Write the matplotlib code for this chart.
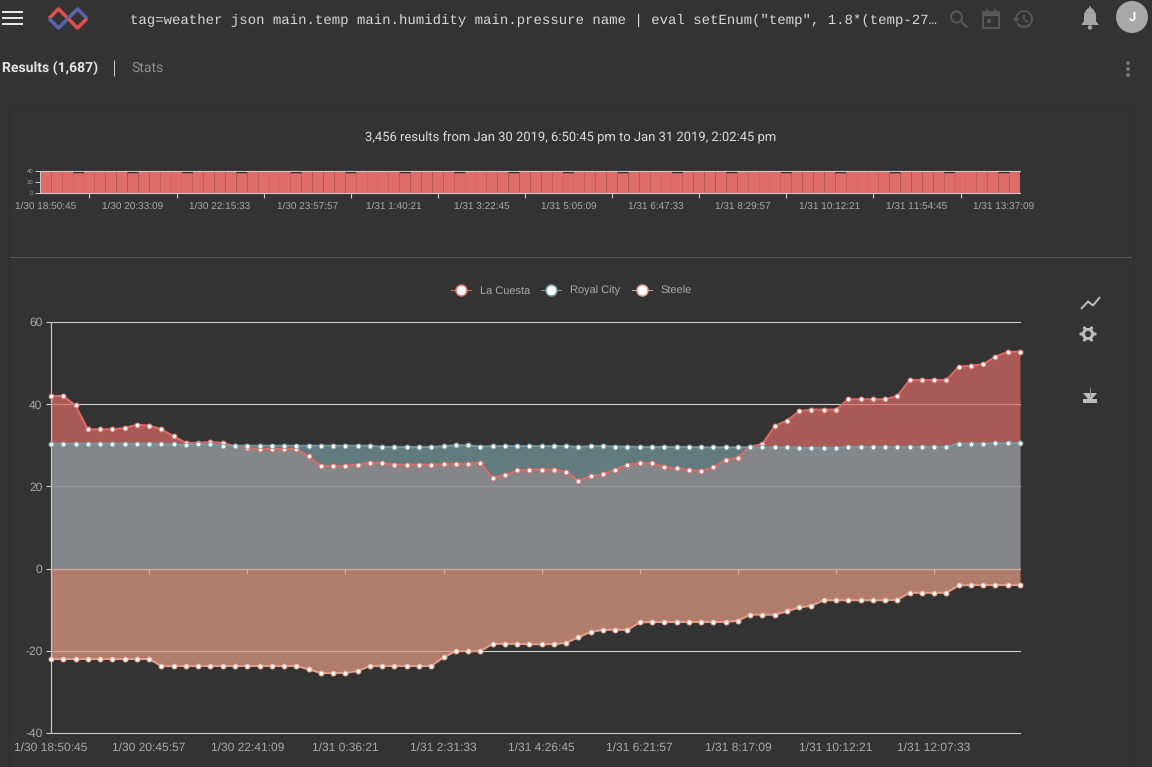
import matplotlib
matplotlib.use("Agg")
import matplotlib.pyplot as plt
from matplotlib.lines import Line2D
from matplotlib.patches import Circle, Polygon, Rectangle, Arc

plt.rcParams["axes.unicode_minus"] = False
plt.rcParams["text.hinting"] = "no_hinting"
plt.rcParams["text.hinting_factor"] = 1

BG = "#333333"
W, H = 1152, 767

# main chart
la_cuesta = [42, 42, 39.7, 33.9, 33.9, 33.9, 34.2, 35.0, 34.8, 33.9,
             32.2, 30.6, 30.6, 30.8, 30.6, 29.8, 29.3, 29.1, 29.1, 29.1,
             29.1, 27.3, 25, 25, 25, 25.3, 25.8, 25.7, 25.3, 25.3,
             25.3, 25.3, 25.4, 25.5, 25.5, 25.8, 22.1, 22.8, 23.9, 24.1,
             24.1, 24.1, 23.6, 21.4, 22.5, 22.9, 24.1, 25.3, 25.6, 25.6,
             24.7, 24.5, 24.0, 23.7, 24.6, 26.5, 27.0, 29.7, 30.3, 34.7,
             36.0, 38.3, 38.7, 38.7, 38.7, 41.2, 41.2, 41.2, 41.2, 42.0,
             45.9, 45.9, 45.9, 45.9, 49.1, 49.4, 49.7, 51.6, 52.7, 52.8]
royal_city = [30.4, 30.4, 30.4, 30.4, 30.4, 30.4, 30.4, 30.4, 30.4, 30.3,
              30.2, 30.1, 30.2, 30.2, 29.9, 29.9, 29.9, 29.9, 29.9, 29.9,
              29.9, 29.9, 29.9, 29.9, 29.9, 29.9, 29.9, 29.6, 29.6, 29.6,
              29.6, 29.6, 29.8, 30.0, 30.0, 29.7, 29.8, 29.8, 29.8, 29.8,
              29.8, 29.8, 29.8, 29.6, 29.8, 29.8, 29.7, 29.7, 29.6, 29.6,
              29.6, 29.6, 29.6, 29.5, 29.5, 29.5, 29.5, 29.5, 29.5, 29.5,
              29.5, 29.4, 29.4, 29.4, 29.4, 29.6, 29.6, 29.6, 29.6, 29.6,
              29.6, 29.6, 29.6, 29.6, 30.4, 30.4, 30.4, 30.5, 30.5, 30.5]
steele = [-22, -22, -22, -22, -22, -22, -22, -22, -22, -23.7,
          -23.7, -23.7, -23.7, -23.7, -23.7, -23.7, -23.7, -23.7, -23.7, -23.7,
          -23.7, -24.5, -25.4, -25.4, -25.4, -24.9, -23.7, -23.7, -23.7, -23.7,
          -23.7, -23.7, -21.6, -20.1, -20.1, -20.1, -18.3, -18.3, -18.3, -18.4,
          -18.4, -18.4, -18.05, -16.7, -15.4, -14.9, -14.9, -14.9, -13.1, -13,
          -13, -13, -13, -13, -13, -13, -12.7, -11.2, -11.2, -11.2,
          -10.4, -9.45, -9.05, -7.7, -7.7, -7.7, -7.7, -7.7, -7.7, -7.6,
          -5.9, -5.9, -5.9, -5.9, -4.1, -4.0, -4.0, -4.0, -4.0, -4.0]
series_names = ["La Cuesta", "Royal City", "Steele"]
series_colors = ["#dd6b66", "#759aa0", "#e69d87"]
x_labels = ["1/30 18:50:45", "1/30 20:45:57", "1/30 22:41:09", "1/31 0:36:21", "1/31 2:31:33",
            "1/31 4:26:45", "1/31 6:21:57", "1/31 8:17:09", "1/31 10:12:21", "1/31 12:07:33"]
y_ticks = [-40, -20, 0, 20, 40, 60]

# overview bars
overview = [39, 39, 39, 36, 39, 39, 39, 39, 36, 39, 39, 39, 39, 36, 39, 39, 39, 39,
            36, 39, 39, 39, 39, 36, 39, 39, 39, 39, 36, 39, 39, 39, 39, 36, 39, 39,
            39, 39, 36, 39, 39, 39, 39, 36, 39, 39, 39, 39, 36, 39, 39, 39, 39, 36,
            39, 39, 39, 39, 36, 39, 39, 39, 39, 36, 39, 39, 39, 39, 36, 39, 39, 39,
            39, 36, 39, 39, 39, 39, 36, 39, 39, 39, 39, 36, 39, 39, 39, 39, 36, 39]
overview_labels = ["1/30 18:50:45", "1/30 20:33:09", "1/30 22:15:33", "1/30 23:57:57",
                   "1/31 1:40:21", "1/31 3:22:45", "1/31 5:05:09", "1/31 6:47:33",
                   "1/31 8:29:57", "1/31 10:12:21", "1/31 11:54:45", "1/31 13:37:09"]

query = 'tag=weather json main.temp main.humidity main.pressure name | eval setEnum("temp", 1.8*(temp-27…'


def px(size):
    return size * 0.72


def axes_from_px(left, top, right, bottom):
    return [left / W, 1 - bottom / H, (right - left) / W, (bottom - top) / H]


fig = plt.figure(figsize=(W / 100, H / 100), dpi=100, facecolor=BG)

# page layer, coordinates are screen pixels
ui = fig.add_axes([0, 0, 1, 1], zorder=0)
ui.set_xlim(0, W)
ui.set_ylim(H, 0)
ui.axis("off")


def ui_line(xs, ys, color, lw=2, **kw):
    ui.plot(xs, ys, color=color, lw=px(lw), solid_capstyle=kw.pop("cap", "butt"), **kw)


# card edges and divider
ui.add_patch(Rectangle((9, 110), 1124, 660, fc="none", ec="#2f2f2f", lw=0.8))
ui_line([10, 1131.5], [257, 257], "#565656", 1)

# hamburger
for y in (12, 18, 24):
    ui_line([2, 23], [y, y], "#e6e6e6", 2)

# logo
red, blue = "#e0504e", "#5763ab"
ui_line([49, 58.5, 68], [18.5, 9, 18.5], red, 3.6)
ui_line([49, 58.5, 68], [18.5, 28, 18.5], blue, 3.6)
ui_line([68, 77.5, 87], [18.5, 9, 18.5], blue, 3.6)
ui_line([68, 77.5, 87], [18.5, 28, 18.5], red, 3.6)

ui.text(130, 20.5, query, family="Liberation Mono", fontsize=px(14), color="#d8d8d8", va="center", ha="left")

# toolbar icons
dim = "#575757"
ui.add_patch(Circle((956.5, 17), 5.5, fc="none", ec=dim, lw=px(2)))
ui_line([960.5, 967], [21, 27.5], dim, 2.2)
ui.add_patch(Rectangle((983, 12), 16, 16, fc="none", ec=dim, lw=px(2)))
ui.add_patch(Rectangle((983, 12), 16, 4, fc=dim, ec="none"))
ui.add_patch(Rectangle((987, 19), 4, 4, fc=dim, ec="none"))
ui_line([987, 987], [9, 13], dim, 2)
ui_line([995, 995], [9, 13], dim, 2)
ui.add_patch(Arc((1024, 19), 16, 16, theta1=-170, theta2=150, ec=dim, lw=px(2)))
ui.add_patch(Polygon([[1012.5, 18], [1020, 18], [1016.2, 22.5]], fc=dim, ec="none"))
ui_line([1024, 1024, 1028], [14.5, 19.5, 22], dim, 1.6)

# bell and avatar
ui.add_patch(Polygon([[1081, 25], [1084, 21], [1084, 14], [1087, 9], [1089, 8], [1089.5, 6], [1090.5, 6],
                      [1091, 8], [1093, 9], [1096, 14], [1096, 21], [1099, 25]], fc="#a6a6a6", ec="none"))
ui.add_patch(Circle((1090, 27.5), 2.2, fc="#a6a6a6", ec="none"))
ui.add_patch(Circle((1132, 17), 16, fc="#a8a8a8", ec="none"))
ui.text(1132, 17.5, "J", family="Roboto", weight="bold", fontsize=px(13), color="white", ha="center", va="center")

# tabs
ui.text(2, 68, "Results (1,687)", family="Roboto", weight="bold", fontsize=px(14), color="#e4e4e4", va="center")
ui_line([114, 114], [60, 75.5], "#cccccc", 1)
ui.text(131, 68, "Stats", family="Roboto", fontsize=px(14), color="#8f8f8f", va="center")
for y in (63, 69, 75):
    ui.add_patch(Circle((1128, y), 2, fc="#747474", ec="none"))

ui.text(571, 137.5, "3,456 results from Jan 30 2019, 6:50:45 pm to Jan 31 2019, 2:02:45 pm",
        family="Roboto", fontsize=9.2, color="#dcdcdc", ha="center", va="center")

# chart tools on the right
tool = "#bdbdbd"
ui_line([1081, 1088, 1093, 1100], [309, 301.5, 305.5, 297], tool, 2)
ui.add_patch(Circle((1088, 334), 4.6, fc="none", ec=tool, lw=px(3)))
for a, b in [(-7, 0), (7, 0), (-3.5, 6), (3.5, 6), (-3.5, -6), (3.5, -6)]:
    ui.add_patch(Circle((1088 + a, 334 + b), 1.6, fc=tool, ec="none"))
ui_line([1090, 1090], [387, 397], "#8c8c8c", 1)
ui.add_patch(Polygon([[1083, 393], [1097, 393], [1092, 399], [1088, 399]], fc=tool, ec="none"))
ui.add_patch(Rectangle((1083, 399), 14, 4, fc=tool, ec="none"))

# overview chart
ax_top = fig.add_axes(axes_from_px(40.4, 171, 1020.4, 193), zorder=1)
ax_top.set_facecolor("#242424")
bars = ax_top.bar(range(len(overview)), overview, width=0.996, color="#e06c68", linewidth=0, zorder=2)
for b in bars:
    b.set_snap(False)
ax_top.set_xlim(-0.5, len(overview) - 0.5)
ax_top.set_ylim(0, 40)
ax_top.set_yticks([0, 20, 40])
ax_top.tick_params(axis="y", labelsize=px(6.5), labelcolor="#999999", color="#cccccc", length=3.5, width=0.7, pad=1.5)
ax_top.set_xticks(range(0, 96, 8))
ax_top.set_xticklabels(overview_labels)
ax_top.tick_params(axis="x", which="major", length=0, pad=6, labelsize=px(10), labelcolor="#aaaaaa")
ax_top.set_xticks(range(4, 88, 8), minor=True)
ax_top.tick_params(axis="x", which="minor", length=3.5, width=0.8, color="#cccccc", direction="out")
for lab in ax_top.get_xticklabels() + ax_top.get_yticklabels():
    lab.set_family("Liberation Sans")
for s in ("top", "right"):
    ax_top.spines[s].set_visible(False)
ax_top.axhline(40, color="#cccccc", lw=0.8, zorder=3, clip_on=False)
ax_top.spines["left"].set_color("#cccccc")
ax_top.spines["left"].set_linewidth(0.7)
ax_top.spines["bottom"].set_color("#cccccc")
ax_top.spines["bottom"].set_linewidth(0.8)

# main chart
ax = fig.add_axes(axes_from_px(51, 322, 1020, 733), zorder=2)
ax.patch.set_alpha(0)
ax.set_xlim(0, 79)
ax.set_ylim(-40, 60)
xs = list(range(80))

for y in y_ticks:
    ax.axhline(y, color="#cccccc", lw=0.8, zorder=0.5, clip_on=False)

all_series = [la_cuesta, royal_city, steele]
for i, (vals, col) in enumerate(zip(all_series, series_colors)):
    ax.fill_between(xs, 0, vals, color=col, alpha=0.7, lw=0, zorder=1 + i * 0.1)
for i, (vals, col) in enumerate(zip(all_series, series_colors)):
    ax.plot(xs, vals, color=col, lw=px(2), zorder=3 + i * 0.1, clip_on=False,
            marker="o", ms=px(5), mfc="white", mec=col, mew=px(1))

ax.set_yticks(y_ticks)
ax.tick_params(axis="y", length=5 * 0.72, width=0.8, color="#cccccc", labelsize=px(12), labelcolor="#aaaaaa", pad=2.5)
ax.set_xticks(range(0, 80, 8))
ax.set_xticklabels(x_labels)
ax.tick_params(axis="x", length=0, pad=6.5, labelsize=px(12), labelcolor="#aaaaaa")
for lab in ax.get_xticklabels() + ax.get_yticklabels():
    lab.set_family("Liberation Sans")
for s in ("top", "right", "bottom"):
    ax.spines[s].set_visible(False)
ax.spines["left"].set_color("#cccccc")
ax.spines["left"].set_linewidth(0.8)

# category axis runs along y=0, its labels stay at the bottom
zero_axis = ax.secondary_xaxis(0.4)
zero_axis.set_xticks(range(0, 80, 8))
zero_axis.set_xticklabels([])
zero_axis.tick_params(axis="x", length=5 * 0.72, width=0.8, color="#cccccc")
zero_axis.spines["bottom"].set_color("#cccccc")
zero_axis.spines["bottom"].set_linewidth(0.8)

handles = [Line2D([], [], color=c, lw=px(1), marker="o", ms=px(11), mfc="white", mec=c, mew=px(1.5), label=n)
           for n, c in zip(series_names, series_colors)]
leg = fig.legend(handles=handles, ncol=3, loc="center", bbox_to_anchor=(571.5 / W, 1 - 291 / H), frameon=False,
                 prop={"family": "Liberation Sans", "size": px(11)}, labelcolor="#aaaaaa",
                 handlelength=1.82, handletextpad=0.82, columnspacing=1.0, borderpad=0)

fig.savefig("out.png", dpi=100, facecolor=BG)
